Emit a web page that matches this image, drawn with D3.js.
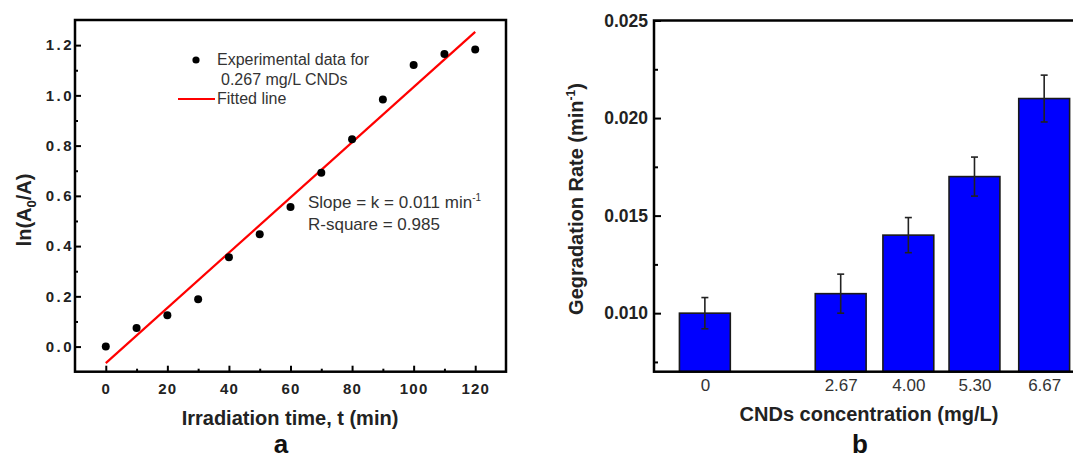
<!DOCTYPE html>
<html>
<head>
<meta charset="utf-8">
<script src="https://cdn.jsdelivr.net/npm/d3@7"></script>
<style>
  html, body { margin: 0; padding: 0; background: #fff; }
  svg { display: block; }
  text { font-family: "Liberation Sans", Arial, sans-serif; }
</style>
</head>
<body>
<svg id="fig" width="1073" height="459"></svg>
<script>
// Panel a: first-order kinetics, 0.267 mg/L CNDs
const timeMin  = [0, 10, 20, 30, 40, 50, 60, 70, 80, 90, 100, 110, 120];
const lnRatio  = [0.000, 0.074, 0.125, 0.188, 0.356, 0.447, 0.556, 0.692, 0.825, 0.984, 1.121, 1.165, 1.183];
const fitTime  = [0, 120];
const fitValue = [-0.066, 1.253];
const aXTicks  = [0, 20, 40, 60, 80, 100, 120];
const aXMinor  = [10, 30, 50, 70, 90, 110];
const aYTicks  = [0.0, 0.2, 0.4, 0.6, 0.8, 1.0, 1.2];
const aYMinor  = [0.1, 0.3, 0.5, 0.7, 0.9, 1.1];

// Panel b: degradation rate against CND concentration
const concentration = [0, 2.67, 4.00, 5.30, 6.67];
const concLabels    = ["0", "2.67", "4.00", "5.30", "6.67"];
const rate          = [0.010, 0.011, 0.014, 0.017, 0.021];
const rateErr       = [0.0008, 0.0010, 0.0009, 0.0010, 0.0012];
const bYTicks       = [0.010, 0.015, 0.020, 0.025];
const bYMinor       = [0.0075, 0.0125, 0.0175, 0.0225];

const svg = d3.select("#fig");

// ---------------- panel a ----------------
const ax = d3.scaleLinear().domain([-10, 130]).range([75, 506]);
const ay = d3.scaleLinear().domain([-0.1, 1.3]).range([371.7, 20]);
const ga = svg.append("g");

function styleAxis(g, fontSize, weight, color, spacing) {
  g.select(".domain").remove();
  g.selectAll(".tick line").attr("stroke", "#000").attr("stroke-width", 2);
  g.selectAll(".tick text")
    .attr("fill", color)
    .style("font-family", '"Liberation Sans", Arial, sans-serif')
    .style("font-size", fontSize + "px")
    .style("font-weight", weight)
    .style("letter-spacing", spacing + "px");
}

// minor ticks (inward)
ga.append("g").attr("transform", `translate(0,${ay(-0.1)})`)
  .call(d3.axisBottom(ax).tickValues(aXMinor).tickSize(-3).tickFormat(""))
  .call(g => styleAxis(g, 15, "bold", "#222", 0));
ga.append("g").attr("transform", `translate(${ax(-10)},0)`)
  .call(d3.axisLeft(ay).tickValues(aYMinor).tickSize(-3).tickFormat(""))
  .call(g => styleAxis(g, 15, "bold", "#222", 0));

// major ticks with labels
ga.append("g").attr("transform", `translate(0,${ay(-0.1)})`)
  .call(d3.axisBottom(ax).tickValues(aXTicks).tickSize(-6).tickPadding(12).tickFormat(d3.format("d")))
  .call(g => styleAxis(g, 15, "bold", "#222", 1.2));
ga.append("g").attr("transform", `translate(${ax(-10)},0)`)
  .call(d3.axisLeft(ay).tickValues(aYTicks).tickSize(-6).tickPadding(1).tickFormat(d3.format(".1f")))
  .call(g => styleAxis(g, 15, "bold", "#222", 2.5));

// fitted line
const fitLine = d3.line().x(d => ax(d[0])).y(d => ay(d[1]));
ga.append("path")
  .datum(fitTime.map((t, i) => [t, fitValue[i]]))
  .attr("d", fitLine)
  .attr("fill", "none").attr("stroke", "#ff0000").attr("stroke-width", 2.2);

// experimental points
ga.selectAll("circle.pt").data(timeMin.map((t, i) => [t, lnRatio[i]]))
  .join("circle").attr("class", "pt")
  .attr("cx", d => ax(d[0])).attr("cy", d => ay(d[1])).attr("r", 4)
  .attr("fill", "#000");

// frame
ga.append("rect")
  .attr("x", ax(-10)).attr("y", ay(1.3))
  .attr("width", ax(130) - ax(-10)).attr("height", ay(-0.1) - ay(1.3))
  .attr("fill", "none").attr("stroke", "#000").attr("stroke-width", 2.5);

// legend
ga.append("circle").attr("cx", 196).attr("cy", 60).attr("r", 3.6).attr("fill", "#000");
ga.append("text").attr("x", 217).attr("y", 65).attr("fill", "#333")
  .style("font-size", "16px").text("Experimental data for");
ga.append("text").attr("x", 221).attr("y", 85).attr("fill", "#333")
  .style("font-size", "16px").text("0.267 mg/L CNDs");
ga.append("line").attr("x1", 178).attr("x2", 215).attr("y1", 99).attr("y2", 99)
  .attr("stroke", "#ff0000").attr("stroke-width", 2.2);
ga.append("text").attr("x", 217).attr("y", 104).attr("fill", "#333")
  .style("font-size", "16px").text("Fitted line");

// fit annotation
const slopeTxt = ga.append("text").attr("x", 308).attr("y", 208).attr("fill", "#333")
  .style("font-size", "17px");
slopeTxt.append("tspan").text("Slope = k = 0.011 min");
slopeTxt.append("tspan").attr("dy", -7).style("font-size", "10px").text("-1");
ga.append("text").attr("x", 308).attr("y", 230).attr("fill", "#333")
  .style("font-size", "17px").text("R-square = 0.985");

// axis titles
ga.append("text").attr("x", 290).attr("y", 425).attr("text-anchor", "middle")
  .attr("fill", "#222").style("font-size", "20px").style("font-weight", "bold")
  .text("Irradiation time, t (min)");
const aYLab = ga.append("text")
  .attr("transform", "translate(31,210) rotate(-90)")
  .attr("text-anchor", "middle").attr("fill", "#222")
  .style("font-size", "20px").style("font-weight", "bold");
aYLab.append("tspan").text("ln(A");
aYLab.append("tspan").attr("dy", 5).style("font-size", "13px").text("0");
aYLab.append("tspan").attr("dy", -5).text("/A)");

// panel letter
ga.append("text").attr("x", 281).attr("y", 453).attr("text-anchor", "middle")
  .attr("fill", "#111").style("font-size", "26px").style("font-weight", "bold").text("a");

// ---------------- panel b ----------------
const bx = d3.scaleLinear().domain([-1, 8]).range([654, 654 + 9 * 50.87]);
const by = d3.scaleLinear().domain([0.007, 0.025]).range([371.7, 20.5]);
const gb = svg.append("g");

// bars
gb.selectAll("rect.bar").data(concentration.map((c, i) => ({ c, v: rate[i], e: rateErr[i] })))
  .join("rect").attr("class", "bar")
  .attr("x", d => bx(d.c - 0.5)).attr("width", d => bx(d.c + 0.5) - bx(d.c - 0.5))
  .attr("y", d => by(d.v)).attr("height", d => by(0.007) - by(d.v))
  .attr("fill", "#0000ff").attr("stroke", "#1a1a1a").attr("stroke-width", 1.6);

// error bars
const eb = gb.selectAll("g.err").data(concentration.map((c, i) => ({ c, v: rate[i], e: rateErr[i] })))
  .join("g").attr("class", "err").attr("stroke", "#222").attr("stroke-width", 1.6);
eb.append("line").attr("x1", d => bx(d.c)).attr("x2", d => bx(d.c))
  .attr("y1", d => by(d.v - d.e)).attr("y2", d => by(d.v + d.e));
eb.append("line").attr("x1", d => bx(d.c) - 3.5).attr("x2", d => bx(d.c) + 3.5)
  .attr("y1", d => by(d.v + d.e)).attr("y2", d => by(d.v + d.e));
eb.append("line").attr("x1", d => bx(d.c) - 3.5).attr("x2", d => bx(d.c) + 3.5)
  .attr("y1", d => by(d.v - d.e)).attr("y2", d => by(d.v - d.e));

// y axis ticks (inward)
gb.append("g").attr("transform", `translate(${bx(-1)},0)`)
  .call(d3.axisLeft(by).tickValues(bYMinor).tickSize(-4).tickFormat(""))
  .call(g => styleAxis(g, 17, "bold", "#222", 0));
gb.append("g").attr("transform", `translate(${bx(-1)},0)`)
  .call(d3.axisLeft(by).tickValues(bYTicks).tickSize(-7).tickPadding(6).tickFormat(d3.format(".3f")))
  .call(g => styleAxis(g, 17.5, "bold", "#222", 0));

// x axis labels (no tick marks)
gb.append("g").attr("transform", `translate(0,${by(0.007)})`)
  .call(d3.axisBottom(bx).tickValues(concentration).tickSize(0).tickPadding(7)
    .tickFormat((d, i) => concLabels[i]))
  .call(g => styleAxis(g, 17, "normal", "#333", 0));

// frame (right side runs past the canvas)
gb.append("rect")
  .attr("x", bx(-1)).attr("y", by(0.025))
  .attr("width", bx(8) - bx(-1)).attr("height", by(0.007) - by(0.025))
  .attr("fill", "none").attr("stroke", "#000").attr("stroke-width", 2.5);

// axis titles
gb.append("text").attr("x", 869).attr("y", 421).attr("text-anchor", "middle")
  .attr("fill", "#222").style("font-size", "20px").style("font-weight", "bold")
  .text("CNDs concentration (mg/L)");
const bYLab = gb.append("text")
  .attr("transform", "translate(583,199) rotate(-90)")
  .attr("text-anchor", "middle").attr("fill", "#222")
  .style("font-size", "20px").style("font-weight", "bold");
bYLab.append("tspan").text("Gegradation Rate (min");
bYLab.append("tspan").attr("dy", -8).style("font-size", "12px").text("-1");
bYLab.append("tspan").attr("dy", 8).text(")");

// panel letter
gb.append("text").attr("x", 860).attr("y", 453).attr("text-anchor", "middle")
  .attr("fill", "#111").style("font-size", "26px").style("font-weight", "bold").text("b");
</script>
</body>
</html>
